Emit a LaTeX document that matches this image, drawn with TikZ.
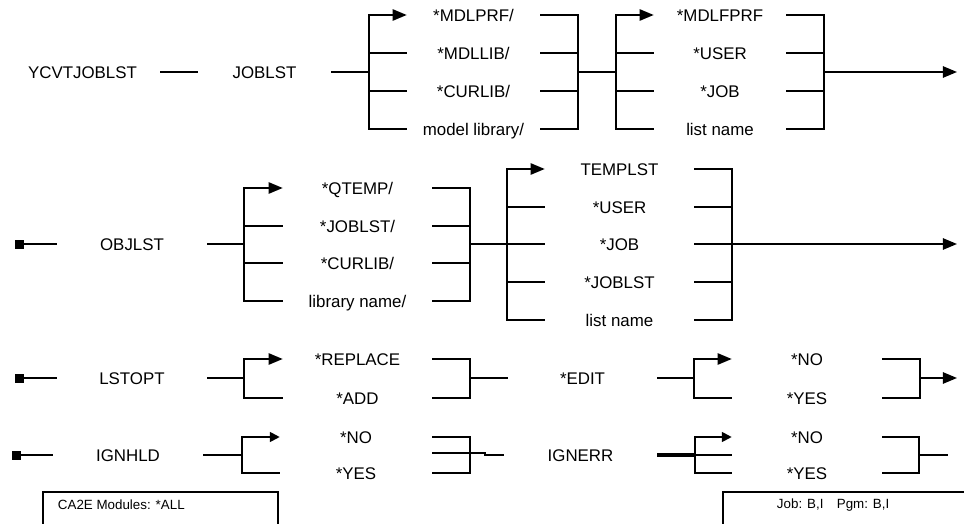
\documentclass[tikz,border=0pt]{standalone}
\usepackage{fontspec}
\setmainfont{Liberation Sans}
\usetikzlibrary{arrows.meta,positioning}

\tikzset{
  rail/.style={line width=1.3pt},
  wd/.style={minimum width={#1*0.025cm}},
  lab/.style={inner sep=0pt, text height=8.6pt, text depth=0pt, align=center},
  stub/.style={fill, inner sep=0pt, minimum size=6.4pt},
  tip/.style={-{Triangle[length=10pt,width=8pt]}},
  smalltip/.style={-{Triangle[length=7pt,width=7pt]}},
  frame/.style={line width=1.4pt},
}

\begin{document}
\begin{tikzpicture}[x=0.025cm, y=-0.025cm, font=\fontsize{12}{14}\selectfont]
\useasboundingbox (0,0) rectangle (964,524);
\def\ya{72}    % row 1: command and JOBLST
\def\yb{244}   % row 2: OBJLST
\def\yc{378}   % row 3: LSTOPT
\def\yd{455}   % row 4: IGNHLD / IGNERR

% ================= row 1 =================
\node[lab, wd=155] (ycvt) at (82.5,\ya) {YCVTJOBLST};
\node[lab, wd=133] (joblst) at (264.5,\ya) {JOBLST};
\draw[rail] (ycvt) -- (joblst);
\coordinate (br1) at (369,\ya);
\coordinate (jn1) at (578,\ya);
\coordinate (br2) at (616,\ya);
\coordinate (jn2) at (824,\ya);
\coordinate (end1) at (957,\ya);
\draw[rail] (joblst) -- (br1);
\foreach \n/\y/\t in {1/15/{*MDLPRF/}, 2/53/{*MDLLIB/}, 3/91/{*CURLIB/}, 4/129/{model library/}}
  \node[lab, wd=133] (mdl\n) at (473.5,\y) {\t};
\foreach \n/\y/\t in {1/15/{*MDLFPRF}, 2/53/{*USER}, 3/91/{*JOB}, 4/129/{list name}}
  \node[lab, wd=132] (lst\n) at (720,\y) {\t};
\draw[rail, tip] (br1) |- (mdl1);
\foreach \n in {2,3,4} \draw[rail] (br1) |- (mdl\n);
\foreach \n in {1,...,4} \draw[rail] (mdl\n) -| (jn1);
\draw[rail] (jn1) -- (br2);
\draw[rail, tip] (br2) |- (lst1);
\foreach \n in {2,3,4} \draw[rail] (br2) |- (lst\n);
\foreach \n in {1,...,4} \draw[rail] (lst\n) -| (jn2);
\draw[rail, tip] (jn2) -- (end1);

% ================= row 2 =================
\node[stub] (sq2) at (19.5,\yb) {};
\node[lab, wd=150] (objlst) at (132,\yb) {OBJLST};
\draw[rail] (sq2) -- (objlst);
\coordinate (br3) at (244,\yb);
\coordinate (jn3) at (470,\yb);
\coordinate (br4) at (507,\yb);
\coordinate (jn4) at (732,\yb);
\coordinate (end2) at (957,\yb);
\draw[rail] (objlst) -- (br3);
\foreach \n/\y/\t in {1/188/{*QTEMP/}, 2/226/{*JOBLST/}, 3/263/{*CURLIB/}, 4/301/{library name/}}
  \node[lab, wd=149] (lib\n) at (357.5,\y) {\t};
\foreach \n/\y/\t in {1/169/{TEMPLST}, 2/207/{*USER}, 3/244/{*JOB}, 4/282/{*JOBLST}, 5/320/{list name}}
  \node[lab, wd=149] (tmp\n) at (619.5,\y) {\t};
\draw[rail, tip] (br3) |- (lib1);
\foreach \n in {2,3,4} \draw[rail] (br3) |- (lib\n);
\foreach \n in {1,...,4} \draw[rail] (lib\n) -| (jn3);
\draw[rail] (jn3) -- (tmp3);
\draw[rail, tip] (br4) |- (tmp1);
\foreach \n in {2,4,5} \draw[rail] (br4) |- (tmp\n);
\foreach \n in {1,2,4,5} \draw[rail] (tmp\n) -| (jn4);
\draw[rail, tip] (tmp3) -- (end2);

% ================= row 3 =================
\node[stub] (sq3) at (19.5,\yc) {};
\node[lab, wd=150] (lstopt) at (132,\yc) {LSTOPT};
\draw[rail] (sq3) -- (lstopt);
\coordinate (br5) at (244,\yc);
\coordinate (jn5) at (470,\yc);
\coordinate (br6) at (694,\yc);
\coordinate (jn6) at (920,\yc);
\coordinate (end3) at (957,\yc);
\node[lab, wd=149] (rpl) at (357.5,359) {*REPLACE};
\node[lab, wd=149] (add) at (357.5,398) {*ADD};
\node[lab, wd=149] (edit) at (582.5,\yc) {*EDIT};
\node[lab, wd=150] (eno) at (807,359) {*NO};
\node[lab, wd=150] (eyes) at (807,398) {*YES};
\draw[rail] (lstopt) -- (br5);
\draw[rail, tip] (br5) |- (rpl);
\draw[rail] (br5) |- (add);
\draw[rail] (rpl) -| (jn5);
\draw[rail] (add) -| (jn5);
\draw[rail] (jn5) -- (edit);
\draw[rail] (edit) -- (br6);
\draw[rail, tip] (br6) |- (eno);
\draw[rail] (br6) |- (eyes);
\draw[rail] (eno) -| (jn6);
\draw[rail] (eyes) -| (jn6);
\draw[rail, tip] (jn6) -- (end3);

% ================= row 4 =================
\node[stub] (sq4) at (16,\yd) {};
\node[lab, wd=150] (ignhld) at (128,\yd) {IGNHLD};
\draw[rail] (sq4) -- (ignhld);
\coordinate (br7) at (242,\yd);
\coordinate (jn7) at (470,\yd);
\coordinate (hmid) at (432,453);
\node[lab, wd=152] (hno) at (356,437) {*NO};
\node[lab, wd=152] (hyes) at (356,473) {*YES};
\node[lab, wd=153] (ignerr) at (580.5,\yd) {IGNERR};
\coordinate (br8) at (695,\yd);
\coordinate (emid) at (732,\yd);
\coordinate (jn8) at (919,\yd);
\coordinate (end4) at (948,\yd);
\node[lab, wd=150] (xno) at (807,437) {*NO};
\node[lab, wd=150] (xyes) at (807,473) {*YES};
\draw[rail] (ignhld) -- (br7);
\draw[rail, smalltip] (br7) |- (hno);
\draw[rail] (br7) |- (hyes);
\draw[rail] (hno) -| (jn7);
\draw[rail] (hyes) -| (jn7);
\draw[rail] (hmid) -- ++(53,0) |- (ignerr);
\draw[line width=2.8pt] (ignerr) -- (br8);
\draw[rail] (br8) -- (emid);
\draw[rail, smalltip] (br8) |- (xno);
\draw[rail] (br8) |- (xyes);
\draw[rail] (xno) -| (jn8);
\draw[rail] (xyes) -| (jn8);
\draw[rail] (jn8) -- (end4);

% ================= footer boxes =================
\node[anchor=west, font=\fontsize{9.5}{11}\selectfont] (mods) at (53,505) {CA2E Modules: *ALL};
\draw[frame] (43,524) |- (278,492) -- (278,524);
\node[anchor=west, font=\fontsize{9.5}{11}\selectfont] (jobpgm) at (772,505) {Job: B,I\quad Pgm: B,I};
\draw[frame] (723,524) |- (964,492);

\end{tikzpicture}
\end{document}
